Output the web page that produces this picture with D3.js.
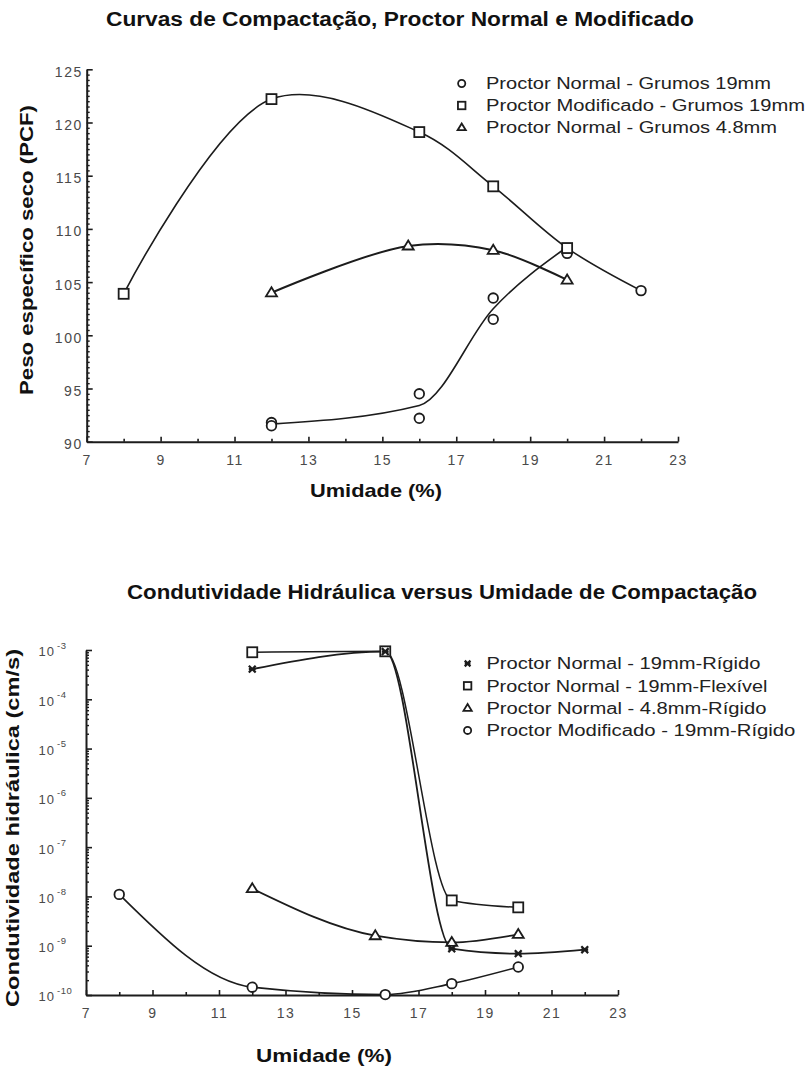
<!DOCTYPE html>
<html><head><meta charset="utf-8">
<script src="https://cdn.jsdelivr.net/npm/d3@7"></script>
<style>body{margin:0;background:#fff}svg{display:block}</style>
</head><body>
<svg id="c" width="809" height="1068"></svg>
<script>
// ---------- Top chart data ----------
const topTitle = "Curvas de Compactação, Proctor Normal e Modificado";
const topXLabel = "Umidade (%)";
const topYLabel = "Peso específico seco (PCF)";
const topXTicks = [7, 9, 11, 13, 15, 17, 19, 21, 23];
const topYTicks = [90, 95, 100, 105, 110, 115, 120, 125];
const topLegend = ["Proctor Normal - Grumos 19mm", "Proctor Modificado - Grumos 19mm", "Proctor Normal - Grumos 4.8mm"];
const topLegendShapes = ["circle", "square", "triangle"];
// Proctor Normal - Grumos 19mm (measured points)
const n19W = [12, 12, 16, 16, 18, 18, 20, 20];
const n19D = [91.8, 91.5, 94.5, 92.2, 103.5, 101.5, 108.1, 107.7];
// fitted curve
const n19CurveW = [12, 16, 18, 20];
const n19CurveD = [91.65, 93.4, 102.5, 108.3];
// Proctor Modificado - Grumos 19mm
const m19W = [8, 12, 16, 18, 20, 22];
const m19D = [103.9, 122.2, 119.1, 114.0, 108.2, 104.2];
const m19Shapes = ["square", "square", "square", "square", "square", "circle"];
// Proctor Normal - Grumos 4.8mm
const n48W = [12, 15.7, 18, 20];
const n48D = [104.0, 108.4, 108.0, 105.2];

// ---------- Bottom chart data ----------
const botTitle = "Condutividade Hidráulica versus Umidade de Compactação";
const botXLabel = "Umidade (%)";
const botYLabel = "Condutividade hidráulica (cm/s)";
const botXTicks = [7, 9, 11, 13, 15, 17, 19, 21, 23];
const botYExps = [-3, -4, -5, -6, -7, -8, -9, -10];
const botLegend = ["Proctor Normal - 19mm-Rígido", "Proctor Normal - 19mm-Flexível", "Proctor Normal - 4.8mm-Rígido", "Proctor Modificado - 19mm-Rígido"];
const botLegendShapes = ["x", "square", "triangle", "circle"];
const r19W = [12, 16, 18, 20, 22];
const r19K = [4.1e-4, 9.3e-4, 8.7e-10, 6.9e-10, 8.3e-10];
const f19W = [12, 16, 18, 20];
const f19K = [9.0e-4, 9.4e-4, 8.3e-9, 6.0e-9];
const r48W = [12, 15.7, 18, 20];
const r48K = [1.44e-8, 1.6e-9, 1.17e-9, 1.7e-9];
const mr19W = [8, 12, 16, 18, 20];
const mr19K = [1.1e-8, 1.44e-10, 1.02e-10, 1.7e-10, 3.7e-10];

// ---------- Layout / style ----------
const FONT = "'Liberation Sans', Arial, sans-serif";
const INK = "#1c1c1c";
const TICKINK = "#4a4a4a";
const svg = d3.select("#c");

function marker(g, shape, x, y, s) {
  let m;
  if (shape === "circle") {
    m = g.append("circle").attr("cx", x).attr("cy", y).attr("r", s * 0.48);
  } else if (shape === "square") {
    m = g.append("rect").attr("x", x - s / 2).attr("y", y - s / 2).attr("width", s).attr("height", s);
  } else if (shape === "triangle") {
    const h = s * 0.9;
    m = g.append("path").attr("d", `M${x},${y - h * 0.6}L${x + s * 0.55},${y + h * 0.4}L${x - s * 0.55},${y + h * 0.4}Z`);
  } else {
    const r = s * 0.38;
    m = g.append("path").attr("d", `M${x - r},${y - r}L${x + r},${y + r}M${x - r},${y + r}L${x + r},${y - r}M${x - r},${y}L${x + r},${y}`);
    m.attr("stroke-width", 2.2);
  }
  m.attr("fill", shape === "x" ? "none" : "#fff").attr("stroke", INK);
  if (shape !== "x") m.attr("stroke-width", 1.8);
  return m;
}

function styleAxis(g) {
  g.select(".domain").attr("stroke", INK).attr("stroke-width", 2);
  g.selectAll(".tick line").attr("stroke", INK).attr("stroke-width", 1.6);
  g.selectAll(".tick text").attr("fill", TICKINK).attr("font-family", FONT).attr("font-size", 14).attr("letter-spacing", 1.5);
}

function label(text, x, y, size, len, rotate) {
  return svg.append("text")
    .attr("transform", `translate(${x},${y})` + (rotate ? " rotate(-90)" : ""))
    .attr("text-anchor", "middle").attr("font-family", FONT).attr("font-weight", "bold")
    .attr("font-size", size).attr("fill", "#111")
    .attr("textLength", len).attr("lengthAdjust", "spacingAndGlyphs")
    .text(text);
}

// ================= TOP CHART =================
const xT = d3.scaleLinear().domain([7, 23]).range([86.7, 678]);
const yT = d3.scaleLinear().domain([90, 125]).range([441.7, 69.3]);
const gT = svg.append("g");

gT.append("g").attr("transform", `translate(0,${yT(90)})`)
  .call(d3.axisBottom(xT).tickValues(d3.range(8, 23, 2)).tickSize(-3).tickFormat(""))
  .call(g => { g.select(".domain").remove(); g.selectAll("line").attr("stroke", INK).attr("stroke-width", 1.6); });
gT.append("g").attr("transform", `translate(${xT(7)},0)`)
  .call(d3.axisLeft(yT).tickValues(d3.range(90.5, 125, 0.5).filter(v => v % 5 !== 0)).tickSize(-3).tickFormat(""))
  .call(g => { g.select(".domain").remove(); g.selectAll("line").attr("stroke", INK).attr("stroke-width", 1.4); });
gT.append("g").attr("transform", `translate(0,${yT(90)})`)
  .call(d3.axisBottom(xT).tickValues(topXTicks).tickSize(-5).tickSizeOuter(0).tickPadding(13))
  .call(styleAxis);
gT.append("g").attr("transform", `translate(${xT(7)},0)`)
  .call(d3.axisLeft(yT).tickValues(topYTicks).tickSize(-6).tickSizeOuter(0).tickPadding(4))
  .call(styleAxis)
  .call(g => g.selectAll(".tick text").attr("dy", "0.5em"));

const lineT = (curve) => d3.line().x(d => xT(d[0])).y(d => yT(d[1])).curve(curve);
gT.append("path").datum(d3.zip(m19W, m19D)).attr("d", lineT(d3.curveCatmullRom.alpha(0.5)))
  .attr("fill", "none").attr("stroke", INK).attr("stroke-width", 1.6);
gT.append("path").datum(d3.zip(n19CurveW, n19CurveD)).attr("d", lineT(d3.curveMonotoneX))
  .attr("fill", "none").attr("stroke", INK).attr("stroke-width", 1.6);
gT.append("path").datum(d3.zip(n48W, n48D)).attr("d", lineT(d3.curveCatmullRom.alpha(0.5)))
  .attr("fill", "none").attr("stroke", INK).attr("stroke-width", 2);

const mkT = gT.append("g");
n19W.forEach((w, i) => marker(mkT, "circle", xT(w), yT(n19D[i]), 10));
m19W.forEach((w, i) => marker(mkT, m19Shapes[i], xT(w), yT(m19D[i]), 10));
n48W.forEach((w, i) => marker(mkT, "triangle", xT(w), yT(n48D[i]), 10));

const topLegW = [285, 319, 291];
topLegend.forEach((t, i) => {
  const y = 83.5 + i * 22;
  marker(svg, topLegendShapes[i], 461.7, y, 7.5);
  svg.append("text").attr("x", 486).attr("y", y).attr("dy", "0.36em")
    .attr("font-family", FONT).attr("font-size", 16).attr("fill", "#222")
    .attr("textLength", topLegW[i]).attr("lengthAdjust", "spacingAndGlyphs").text(t);
});

label(topTitle, 400, 26, 20, 588, false);
label(topXLabel, 376, 497, 19, 132, false);
label(topYLabel, 33, 250, 18, 290, true);

// ================= BOTTOM CHART =================
const xB = d3.scaleLinear().domain([7, 23]).range([86, 618]);
const yB = d3.scaleLog().domain([1e-10, 1e-3]).range([995, 650]);
const gB = svg.append("g");

gB.append("g").attr("transform", `translate(0,${yB(1e-10)})`)
  .call(d3.axisBottom(xB).tickValues(d3.range(8, 23, 2)).tickSize(-3).tickFormat(""))
  .call(g => { g.select(".domain").remove(); g.selectAll("line").attr("stroke", INK).attr("stroke-width", 1.6); });
gB.append("g").attr("transform", `translate(${xB(7)},0)`)
  .call(d3.axisLeft(yB).tickValues(d3.range(-10, -3).flatMap(e => d3.range(2, 10).map(m => m * Math.pow(10, e)))).tickSize(-3).tickFormat(""))
  .call(g => { g.select(".domain").remove(); g.selectAll("line").attr("stroke", INK).attr("stroke-width", 1.4); });
gB.append("g").attr("transform", `translate(0,${yB(1e-10)})`)
  .call(d3.axisBottom(xB).tickValues(botXTicks).tickSize(-5).tickSizeOuter(0).tickPadding(13))
  .call(styleAxis);
const yAxB = gB.append("g").attr("transform", `translate(${xB(7)},0)`)
  .call(d3.axisLeft(yB).tickValues(botYExps.map(e => Math.pow(10, e))).tickSize(-6).tickSizeOuter(0).tickFormat(""))
  .call(styleAxis);
yAxB.selectAll(".tick").each(function (d, i) {
  const t = d3.select(this);
  t.append("text").attr("x", -31).attr("dy", "0.45em").attr("text-anchor", "end")
    .attr("fill", TICKINK).attr("font-family", FONT).attr("font-size", 13).attr("letter-spacing", 1).text("10");
  t.append("text").attr("x", -29).attr("dy", "-0.2em").attr("text-anchor", "start")
    .attr("fill", TICKINK).attr("font-family", FONT).attr("font-size", 9.5).attr("letter-spacing", 0.5).text(String(botYExps[i]));
});

const lineB = (curve) => d3.line().x(d => xB(d[0])).y(d => yB(d[1])).curve(curve);
[[r19W, r19K, 1.8], [f19W, f19K, 1.5], [r48W, r48K, 1.8], [mr19W, mr19K, 1.6]].forEach(([w, k, sw]) => {
  gB.append("path").datum(d3.zip(w, k)).attr("d", lineB(d3.curveMonotoneX))
    .attr("fill", "none").attr("stroke", INK).attr("stroke-width", sw);
});

const mkB = gB.append("g");
f19W.forEach((w, i) => marker(mkB, "square", xB(w), yB(f19K[i]), 10));
r48W.forEach((w, i) => marker(mkB, "triangle", xB(w), yB(r48K[i]), 10));
mr19W.forEach((w, i) => marker(mkB, "circle", xB(w), yB(mr19K[i]), 10));
r19W.forEach((w, i) => marker(mkB, "x", xB(w), yB(r19K[i]), 9));

const botLegW = [274, 281, 280, 309];
botLegend.forEach((t, i) => {
  const y = 663.5 + i * 22.3;
  marker(svg, botLegendShapes[i], 467.6, y, 7.5);
  svg.append("text").attr("x", 486.4).attr("y", y).attr("dy", "0.36em")
    .attr("font-family", FONT).attr("font-size", 16).attr("fill", "#222")
    .attr("textLength", botLegW[i]).attr("lengthAdjust", "spacingAndGlyphs").text(t);
});

label(botTitle, 442, 599, 20, 630, false);
label(botXLabel, 324, 1062, 19, 136, false);
label(botYLabel, 19, 828, 18, 358, true);
</script>
</body></html>
